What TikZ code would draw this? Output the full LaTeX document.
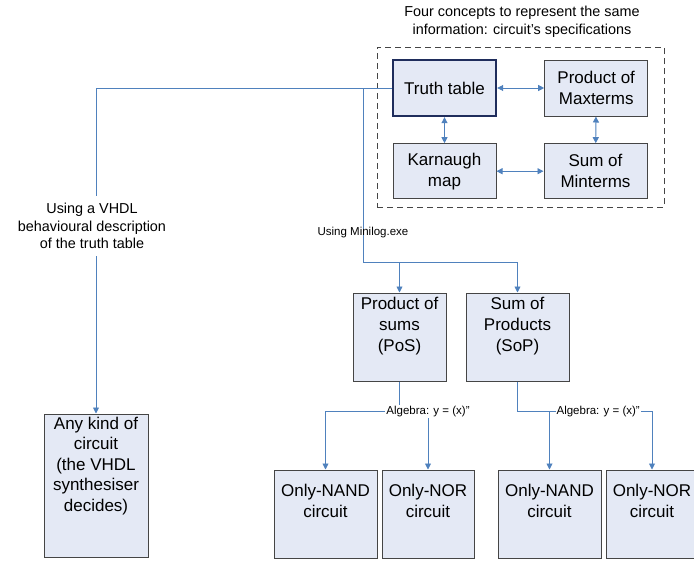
\documentclass[tikz,border=0pt]{standalone}
\usepackage{fontspec}
\setmainfont{Liberation Sans}
\usetikzlibrary{positioning,arrows.meta}
\definecolor{boxFill}{HTML}{E4E9F5}
\definecolor{boxBorder}{HTML}{454545}
\definecolor{truthBorder}{HTML}{1F2D5C}
\definecolor{linkBlue}{HTML}{4F81BD}

\begin{document}
\begin{tikzpicture}[
            x=1pt, y=-1pt,
            box/.style={
                    rectangle,
                    draw=boxBorder,
                    line width=1pt,
                    fill=boxFill,
                    align=center,
                    font=\fontsize{17}{21}\selectfont
                },
            boxtext/.style={
                    inner sep=0pt,
                    align=center,
                    font=\fontsize{17}{21}\selectfont
                },
            note/.style={align=center, font=\fontsize{14.4}{17.5}\selectfont},
            linklabel/.style={font=\fontsize{11.5}{13}\selectfont, inner sep=1pt},
            link/.style={draw=linkBlue, line width=0.9pt},
            arrow/.style={->, >={Triangle[length=6pt,width=6pt]}, link}
        ]
        \useasboundingbox (0,0) rectangle (694,565);

        % the four equivalent specifications
        \node[box, draw=truthBorder, line width=2.4pt, minimum width=103pt, minimum height=56pt] (truth) at (444.5,88) {Truth table};
        \node[box, minimum width=103pt, minimum height=56pt, right=47pt of truth] (maxt) {Product of\\Maxterms};
        \node[box, minimum width=103pt, minimum height=55pt, below=26pt of truth] (karn) {Karnaugh\\map};
        \node[box, minimum width=103pt, minimum height=55pt, right=47pt of karn] (mint) {Sum of\\Minterms};
        \node[draw=boxBorder, dash pattern=on 6pt off 4pt, line width=1pt, minimum width=287pt, minimum height=160pt] (group) at (520.5,127) {};
        \node[note] (title) at (522,22) {Four concepts to represent the same\\information: circuit's specifications};

        \draw[arrow, <->] (truth) -- (maxt);
        \draw[arrow, <->] (truth) -- (karn);
        \draw[arrow, <->] (maxt) -- (mint);
        \draw[arrow, <->] (karn) -- (mint);

        % two-level forms
        \node[box, minimum width=93pt, minimum height=88pt] (pos) at (399.5,337) {};
        \node[box, minimum width=103pt, minimum height=88pt, right=19pt of pos] (sop) {};
        \node[boxtext, below=4pt of pos.north] (postxt) {Product of\\sums\\(PoS)};
        \node[boxtext, below=4pt of sop.north] (soptxt) {Sum of\\Products\\(SoP)};

        % circuits
        \node[box, minimum width=104pt, minimum height=143pt] (anyk) at (96,485.5) {};
        \node[boxtext, font=\fontsize{17}{20.5}\selectfont, below=3pt of anyk.north] (anyktxt) {Any kind of\\circuit\\(the VHDL\\synthesiser\\decides)};
        \node[box, minimum width=103pt, minimum height=88pt] (nand1) at (325.5,514) {};
        \node[box, minimum width=92pt, minimum height=88pt, right=4pt of nand1] (nor1) {};
        \node[box, minimum width=103pt, minimum height=88pt, right=23pt of nor1] (nand2) {};
        \node[box, minimum width=92pt, minimum height=88pt, right=4pt of nand2] (nor2) {};
        \node[boxtext, below=14pt of nand1.north] (nand1txt) {Only-NAND\\circuit};
        \node[boxtext, below=14pt of nor1.north] (nor1txt) {Only-NOR\\circuit};
        \node[boxtext, below=14pt of nand2.north] (nand2txt) {Only-NAND\\circuit};
        \node[boxtext, below=14pt of nor2.north] (nor2txt) {Only-NOR\\circuit};

        % VHDL route
        \draw[arrow] (truth.west) -| (anyk.north);
        \node[note, fill=white, inner xsep=2pt, inner ysep=7pt] (vhdl) at (92,226) {Using a VHDL\\behavioural description\\of the truth table};

        % Minilog route
        \coordinate (fork) at (363,262);
        \draw[link] (truth.west -| fork) -- (fork);
        \draw[arrow] (fork) -| (pos.north);
        \draw[arrow] (fork) -| (sop.north);
        \node[linklabel] (mini) at (363,233) {Using Minilog.exe};

        % algebra
        \coordinate[below=30pt of pos.south] (posfork);
        \coordinate[below=30pt of sop.south] (sopfork);
        \draw[link] (pos) -- (posfork);
        \draw[link] (sop) -- (sopfork);
        \draw[arrow] (posfork) -| (nand1.north);
        \draw[arrow] (posfork) -| node[linklabel, fill=white] (alg1) {Algebra: y = (x)''} (nor1.north);
        \draw[arrow] (sopfork) -| (nand2.north);
        \draw[arrow] (sopfork) -| node[linklabel, fill=white, pos=0.3] (alg2) {Algebra: y = (x)''} (nor2.north);
    \end{tikzpicture}
\end{document}
